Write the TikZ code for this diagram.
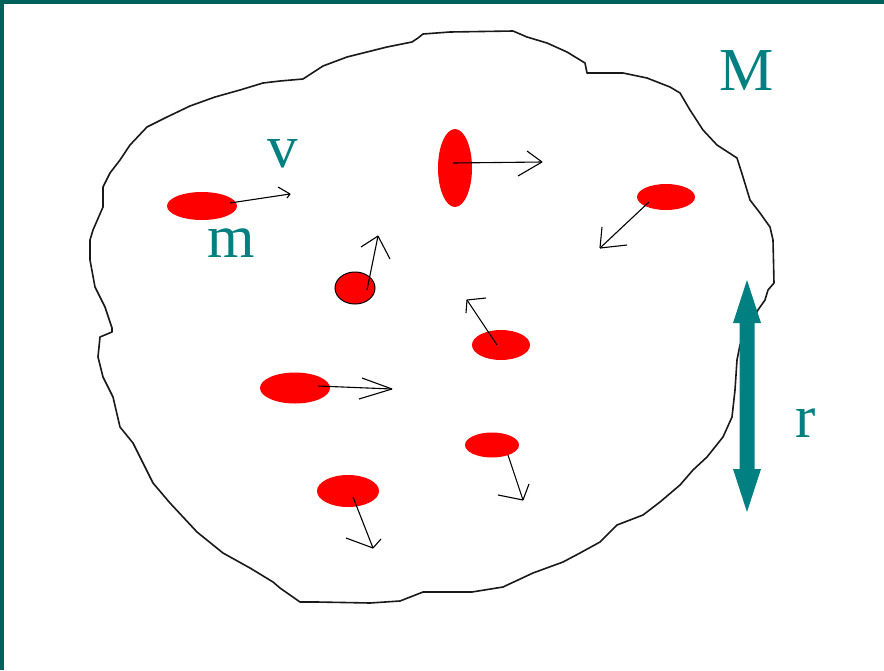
\documentclass[tikz,border=0pt]{standalone}
\usepackage{fontspec}
\setmainfont{Liberation Serif}
\usetikzlibrary{shapes.geometric}
\definecolor{tealtxt}{RGB}{0,128,128}
\definecolor{tealborder}{RGB}{0,98,92}
\definecolor{partred}{RGB}{255,0,0}
\tikzset{
  particle/.style={ellipse, fill=partred, inner sep=0pt},
  vel/.style={draw=black, line width=1.1pt},
  outline/.style={draw=black!90, line width=1.6pt, line join=round},
  lbl/.style={text=tealtxt, anchor=base, inner sep=0pt, font=\fontsize{61}{61}\selectfont},
}
\begin{document}
\begin{tikzpicture}[x=1pt,y=-1pt]
\useasboundingbox (0,0) rectangle (884,670);
\fill[white] (0,0) rectangle (884,670);
\fill[tealborder] (0,0) rectangle (884,4);
\fill[tealborder] (0,0) rectangle (4,670);

% region boundary
\draw[outline] (103,187)--(110,173)--(120,160)--(130,145)--(147,127)--(167,117)--(190,106)--(215,97)--(240,90)--(263,83)--(280,81)--(303,79)--(323,66)--(347,57)--(367,52)--(387,47)--(412,42)--(418,38)--(423,34)--(450,32)--(513,31)--(527,37)--(547,43)--(567,52)--(585,63)--(587,73)--(623,73)--(647,78)--(670,87)--(680,93)--(690,110)--(703,130)--(717,145)--(737,158)--(743,177)--(750,200)--(760,213)--(770,227)--(773,240)--(774,283)--(768,290)--(765,300)--(758,310)--(748,327)--(740,345)--(737,360)--(735,390)--(732,417)--(723,437)--(707,457)--(693,470)--(680,485)--(660,502)--(643,515)--(617,525)--(600,542)--(580,553)--(563,562)--(533,573)--(503,587)--(472,592)--(423,592)--(400,601)--(370,603)--(317,602)--(300,602)--(280,588)--(273,582)--(250,568)--(223,553)--(197,532)--(170,503)--(153,483)--(140,457)--(133,443)--(120,427)--(113,397)--(103,377)--(98,357)--(100,337)--(112,332)--(112,328)--(105,307)--(95,287)--(90,260)--(90,240)--(93,230)--(103,207)--cycle;

% particles
\node[particle, minimum width=70pt, minimum height=28pt] (p1) at (202,206) {};
\node[particle, minimum width=34pt, minimum height=78pt] (p2) at (455,168) {};
\node[particle, minimum width=58pt, minimum height=26pt] (p3) at (666,197) {};
\node[particle, draw=black, line width=1pt, minimum width=40pt, minimum height=32pt] (p4) at (355,288) {};
\node[particle, minimum width=58pt, minimum height=30pt] (p5) at (501,345) {};
\node[particle, minimum width=70pt, minimum height=31pt] (p6) at (295,388) {};
\node[particle, minimum width=54pt, minimum height=25pt] (p7) at (492,445) {};
\node[particle, minimum width=62pt, minimum height=32pt] (p8) at (348,491) {};

% velocity tails and tips
\coordinate (t1) at (230,203); \coordinate (h1) at (290,194);
\coordinate (t2) at (453,163); \coordinate (h2) at (542,162);
\coordinate (t3) at (649,202); \coordinate (h3) at (600,248);
\coordinate (t4) at (367,290); \coordinate (h4) at (378,236);
\coordinate (t5) at (497,345); \coordinate (h5) at (467,300);
\coordinate (t6) at (318,386); \coordinate (h6) at (392,389);
\coordinate (t7) at (508,455); \coordinate (h7) at (523,500);
\coordinate (t8) at (353,497); \coordinate (h8) at (373,548);

\draw[vel] (t1) -- (h1);
\draw[vel] (h1) -- ++(-12,-7) (h1) -- ++(-3,4);
\draw[vel] (t2) -- (h2);
\draw[vel] (h2) -- ++(-15,-11) (h2) -- ++(-24,14);
\draw[vel] (t3) -- (h3);
\draw[vel] (h3) -- ++(2,-21) (h3) -- ++(27,-3);
\draw[vel] (t4) -- (h4);
\draw[vel] (h4) -- ++(-17,11) (h4) -- ++(12,23);
\draw[vel] (t5) -- (h5);
\draw[vel] (h5) -- ++(-1,13) (h5) -- ++(19,-2);
\draw[vel] (t6) -- (h6);
\draw[vel] (h6) -- ++(-30,-11) (h6) -- ++(-33,10);
\draw[vel] (t7) -- (h7);
\draw[vel] (h7) -- ++(-25,-5) (h7) -- ++(6,-16);
\draw[vel] (t8) -- (h8);
\draw[vel] (h8) -- ++(-27,-10) (h8) -- ++(8,-9);

% radius arrow
\coordinate (rtop) at (747,280);
\coordinate (rbot) at (747,512);
\fill[tealtxt] (rtop) -- (761,323) -- (754.5,323) -- (754.5,469) -- (761,469) -- (rbot) -- (733,469) -- (739.5,469) -- (739.5,323) -- (733,323) -- cycle;

% labels
\node[lbl] (lv) at (283,167) {v};
\node[lbl] (lm) at (231,257) {m};
\node[lbl] (lM) at (747,90) {M};
\node[lbl] (lr) at (806,437) {r};
\end{tikzpicture}
\end{document}
